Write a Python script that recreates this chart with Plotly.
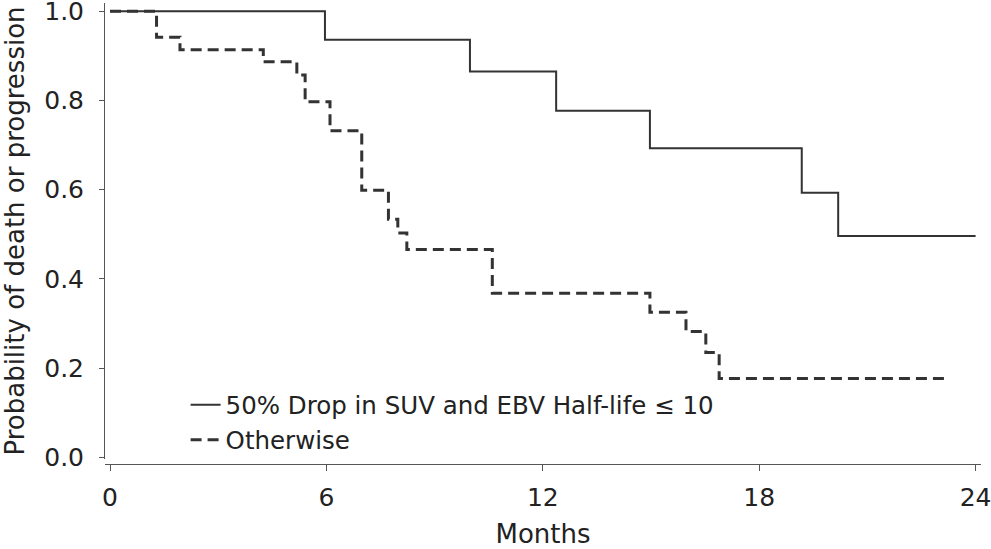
import plotly.graph_objects as go

# Kaplan-Meier style step data (months, probability)
solid_name = "50% Drop in SUV and EBV Half-life \u2264 10"
solid_t = [0.0, 5.96, 9.98, 12.37, 14.97, 19.18, 20.19, 24.0]
solid_p = [1.0, 0.936, 0.865, 0.777, 0.693, 0.593, 0.496, 0.496]

dashed_name = "Otherwise"
dashed_t = [0.0, 1.29, 1.94, 4.25, 5.18, 5.41, 6.10, 6.98, 7.72, 7.98, 8.23,
            10.60, 14.97, 15.97, 16.52, 16.89, 23.2]
dashed_p = [1.0, 0.942, 0.914, 0.887, 0.857, 0.797, 0.732, 0.599, 0.534, 0.503,
            0.466, 0.368, 0.325, 0.282, 0.235, 0.177, 0.177]

x_ticks = [0, 6, 12, 18, 24]
y_ticks = [0.0, 0.2, 0.4, 0.6, 0.8, 1.0]
y_tick_text = ["0.0", "0.2", "0.4", "0.6", "0.8", "1.0"]

line_col = "#333333"
text_col = "#222222"
axis_col = "#555555"
font_family = "DejaVu Sans, Liberation Sans, Arial, sans-serif"

fig = go.Figure()
fig.add_trace(go.Scatter(x=solid_t, y=solid_p, mode="lines", name=solid_name,
                         line=dict(color=line_col, width=2, shape="hv")))
fig.add_trace(go.Scatter(x=dashed_t, y=dashed_p, mode="lines", name=dashed_name,
                         line=dict(color=line_col, width=3, shape="hv", dash="11px,6px")))

fig.update_layout(
    width=991, height=549,
    margin=dict(l=105, r=10, t=3, b=85),
    paper_bgcolor="white", plot_bgcolor="white",
    font=dict(family=font_family, color=text_col, size=25),
    showlegend=True,
    legend=dict(x=0.092, y=0.177, xanchor="left", yanchor="top",
                bgcolor="rgba(0,0,0,0)", borderwidth=0,
                font=dict(size=24.5, color=text_col), tracegroupgap=0),
    xaxis=dict(domain=[0, 1], range=[-0.139, 24.15], anchor="free", position=0,
               automargin=False,
               tickmode="array", tickvals=x_ticks, ticktext=[str(v) for v in x_ticks],
               showgrid=False, zeroline=False, showline=True, linecolor=axis_col,
               linewidth=1, ticks="outside", ticklen=6, tickcolor=axis_col,
               tickfont=dict(size=25, color=text_col), ticklabelstandoff=5,
               ticklabeloverflow="allow",
               title=dict(text="Months", font=dict(size=26, color=text_col), standoff=26)),
    yaxis=dict(domain=[0.0108, 1], range=[-0.0038, 1.0186],
               automargin=False,
               tickmode="array", tickvals=y_ticks, ticktext=y_tick_text,
               showgrid=False, zeroline=False, showline=True, linecolor=axis_col,
               linewidth=1, ticks="outside", ticklen=5, tickcolor=axis_col,
               tickfont=dict(size=25, color=text_col), ticklabelstandoff=10,
               ticklabeloverflow="allow",
               title=dict(text="Probability of death or progression",
                          font=dict(size=26, color=text_col), standoff=12)),
)

fig.write_html("out.html",
               config={"displayModeBar": False},
               post_script="document.body.style.margin='0';document.body.style.padding='0';")
